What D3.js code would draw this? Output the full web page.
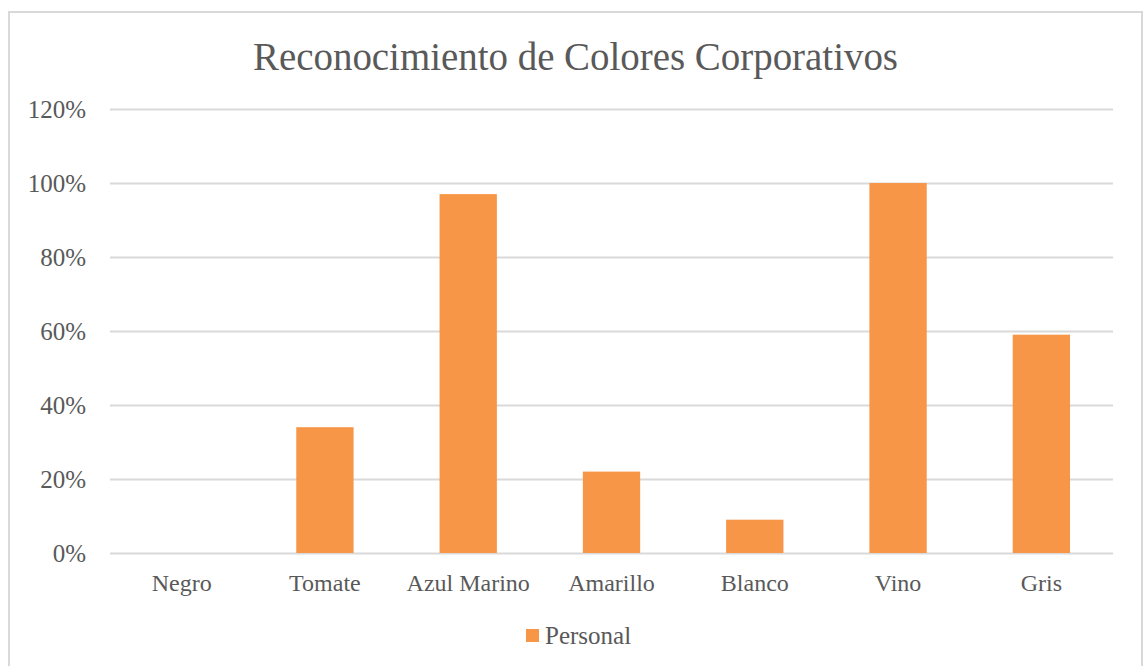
<!DOCTYPE html>
<html>
<head>
<meta charset="utf-8">
<script src="https://cdn.jsdelivr.net/npm/d3@7"></script>
<style>
  html, body { margin: 0; padding: 0; background: #fff; }
  svg { display: block; }
  text { font-family: "Liberation Serif", "DejaVu Serif", serif; fill: #595959; }
</style>
</head>
<body>
<svg id="chart" width="1144" height="666"></svg>
<script>
// Chart data
const title = "Reconocimiento de Colores Corporativos";
const categories = ["Negro", "Tomate", "Azul Marino", "Amarillo", "Blanco", "Vino", "Gris"];
const seriesName = "Personal";
const values = [0, 0.34, 0.97, 0.22, 0.09, 1.00, 0.59];
const yTicks = [0, 0.2, 0.4, 0.6, 0.8, 1.0, 1.2];

const W = 1144, H = 666;
const plot = { left: 110, right: 1113, top: 109, bottom: 553 };
const barColor = "#f79646";
const gridColor = "#d9d9d9";

const svg = d3.select("#chart");

// Outer chart frame
svg.append("rect")
  .attr("x", 9).attr("y", 12)
  .attr("width", 1133).attr("height", 680)
  .attr("fill", "#fff")
  .attr("stroke", gridColor)
  .attr("stroke-width", 2);

const x = d3.scaleBand()
  .domain(categories)
  .range([plot.left, plot.right])
  .paddingInner(0.6)
  .paddingOuter(0.3);

const y = d3.scaleLinear()
  .domain([0, 1.2])
  .range([plot.bottom, plot.top]);

// Title
svg.append("text")
  .attr("x", 575.5)
  .attr("y", 70)
  .attr("text-anchor", "middle")
  .attr("font-size", 40)
  .attr("textLength", 645)
  .attr("lengthAdjust", "spacingAndGlyphs")
  .text(title);

// Horizontal gridlines with percentage labels
const yAxis = d3.axisLeft(y)
  .tickValues(yTicks)
  .tickFormat(d3.format(".0%"))
  .tickSize(-(plot.right - plot.left))
  .tickPadding(24);

const gy = svg.append("g")
  .attr("transform", `translate(${plot.left},0)`)
  .call(yAxis);
gy.select(".domain").remove();
gy.selectAll(".tick line")
  .attr("stroke", gridColor)
  .attr("stroke-width", 2);
gy.selectAll(".tick text")
  .attr("font-size", 25)
  .attr("font-family", "Liberation Serif, DejaVu Serif, serif")
  .attr("fill", "#595959")
  .attr("dy", "0.32em");

// Bars
svg.append("g")
  .selectAll("rect")
  .data(categories.map((c, i) => ({ c, v: values[i] })))
  .join("rect")
  .attr("x", d => x(d.c))
  .attr("width", x.bandwidth())
  .attr("y", d => y(d.v))
  .attr("height", d => y(0) - y(d.v))
  .attr("fill", barColor);

// Category axis labels
const xAxis = d3.axisBottom(x).tickSize(0).tickPadding(21);
const gx = svg.append("g")
  .attr("transform", `translate(0,${plot.bottom})`)
  .call(xAxis);
gx.select(".domain").remove();
gx.selectAll(".tick text")
  .attr("font-size", 24)
  .attr("font-family", "Liberation Serif, DejaVu Serif, serif")
  .attr("fill", "#595959");

// Legend
const legend = svg.append("g").attr("transform", "translate(526,629)");
legend.append("rect")
  .attr("width", 13).attr("height", 13)
  .attr("fill", barColor);
legend.append("text")
  .attr("x", 19).attr("y", 15)
  .attr("font-size", 25)
  .text(seriesName);
</script>
</body>
</html>
